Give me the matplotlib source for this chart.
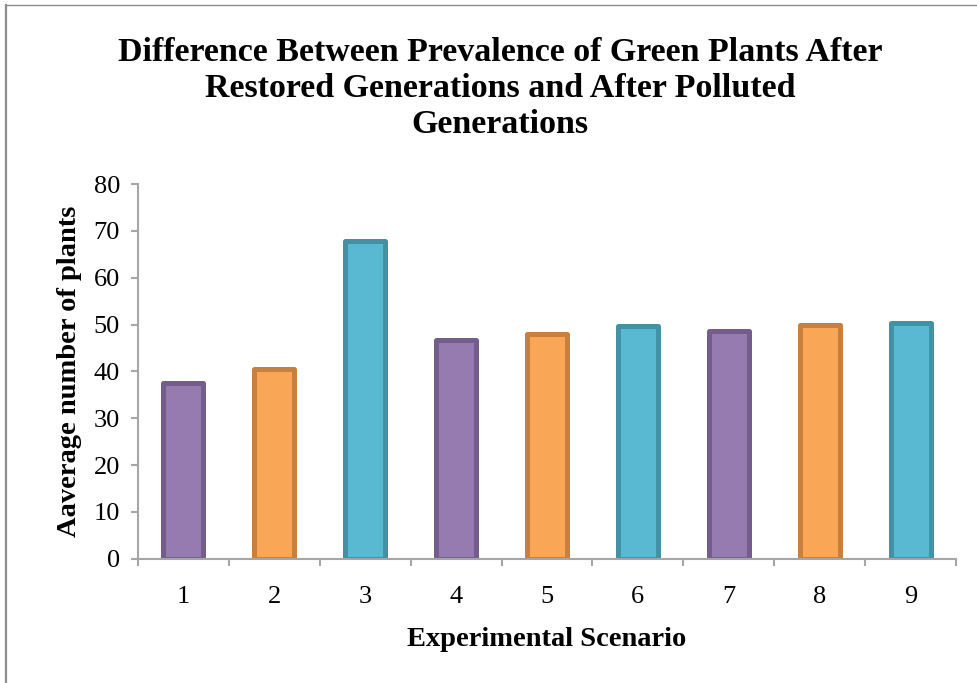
import matplotlib
matplotlib.use("Agg")
import matplotlib.pyplot as plt
from matplotlib.lines import Line2D

scenarios = ["1", "2", "3", "4", "5", "6", "7", "8", "9"]
values = [37.6, 40.6, 67.9, 46.6, 47.9, 49.6, 48.6, 49.9, 50.3]
y_ticks = [0, 10, 20, 30, 40, 50, 60, 70, 80]

fills = ["#957BB0", "#F9A656", "#5AB9D2"]
edges = ["#735E8B", "#C7803E", "#4291A4"]

plt.rcParams["font.family"] = ["Liberation Serif", "DejaVu Serif"]

fig = plt.figure(figsize=(9.78, 6.83), dpi=100)
ax = fig.add_axes([0.1411, 0.182, 0.8364, 0.5486])

xs = list(range(1, len(scenarios) + 1))
for i, (x, v) in enumerate(zip(xs, values)):
    ax.bar(x, v, width=0.44, color=fills[i % 3], edgecolor=edges[i % 3],
           linewidth=3.6, joinstyle="round", zorder=2)

ax.set_xlim(0.5, len(scenarios) + 0.5)
ax.set_ylim(0, 80)

ax.set_yticks(y_ticks)
ax.set_yticklabels([str(t) for t in y_ticks], fontsize=19)

ax.set_xticks([x - 0.5 for x in xs] + [len(xs) + 0.5])
ax.set_xticklabels([])
ax.set_xticks(xs, minor=True)
ax.set_xticklabels(scenarios, minor=True, fontsize=19)

ax.tick_params(axis="both", which="major", direction="out", length=5,
               width=1.5, color="#A6A6A6")
ax.tick_params(axis="x", which="minor", length=0, pad=20)
ax.tick_params(axis="y", which="major", pad=8)

for side in ["top", "right"]:
    ax.spines[side].set_visible(False)
for side in ["left", "bottom"]:
    ax.spines[side].set_color("#A6A6A6")
    ax.spines[side].set_linewidth(1.5)
    ax.spines[side].set_zorder(3)

ax.set_xlabel("Experimental Scenario", fontsize=20.5, fontweight="bold",
              labelpad=13)
ax.set_ylabel("Aaverage number of plants", fontsize=20.5, fontweight="bold",
              labelpad=8)

fig.text(0.511, 0.946,
         "Difference Between Prevalence of Green Plants After\n"
         "Restored Generations and After Polluted\nGenerations",
         ha="center", va="top", fontsize=24.5, fontweight="bold",
         linespacing=1.22)

# outer chart border (top and left edges)
fig.add_artist(Line2D([0.0066, 1.0], [0.9927, 0.9927], color="#8C8C8C",
                      lw=1.0, transform=fig.transFigure))
fig.add_artist(Line2D([0.0066, 0.0066], [0.0, 0.9927], color="#8C8C8C",
                      lw=1.6, transform=fig.transFigure))

fig.savefig("out.png", dpi=100)
